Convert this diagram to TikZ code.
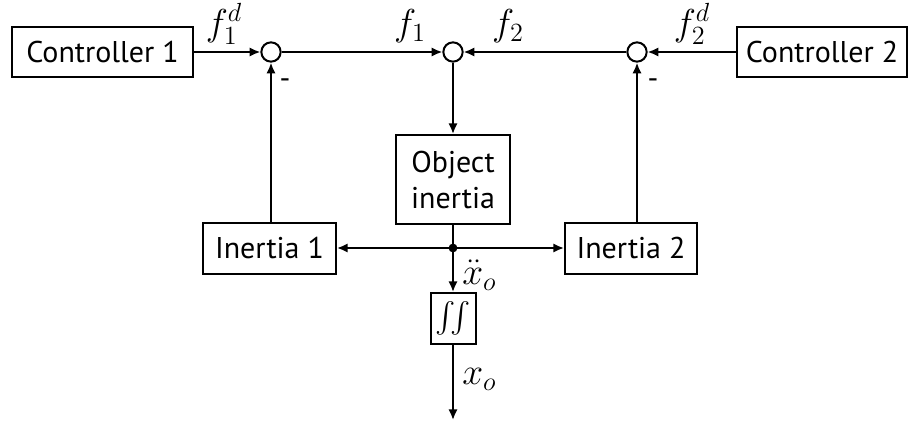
\RequirePackage{fix-cm}
\documentclass[tikz,border=0pt]{standalone}
\usepackage{amsmath}
\usepackage{graphicx}
\usepackage[no-math]{fontspec}
\setmainfont{PT Sans}
\usetikzlibrary{arrows.meta}
\newcommand{\mylbl}[1]{\scalebox{1.25}{$#1$}}
\begin{document}
\begin{tikzpicture}[x=0.75pt,y=-0.75pt,
  font=\fontsize{22.5}{27}\selectfont,
  blk/.style={draw,line width=1.5pt,inner sep=0pt,align=center},
  sumc/.style={circle,draw,line width=1.5pt,minimum size=14.5pt,inner sep=0pt},
  conn/.style={line width=1.5pt,-{Latex[length=8pt,width=7pt]}},
  plain/.style={line width=1.5pt},
  lbl/.style={inner sep=0pt}]
\useasboundingbox (0,0) rectangle (909,421);
\node[blk,minimum width=135.75pt,minimum height=37.5pt] (c1) at (102.5,52) {Controller 1};
\node[blk,minimum width=127.5pt,minimum height=37.5pt] (c2) at (822,52) {Controller 2};
\node[sumc] (s1) at (271,52) {};
\node[sumc] (s0) at (453,52) {};
\node[sumc] (s2) at (637,52) {};
\node[blk,minimum width=85.5pt,minimum height=66.75pt] (obj) at (453,179.5) {Object\\inertia};
\node[blk,minimum width=99.75pt,minimum height=38.25pt] (i1) at (269.5,248) {Inertia 1};
\node[blk,minimum width=99pt,minimum height=38.25pt] (i2) at (631,248) {Inertia 2};
\node[blk,minimum width=33.75pt,minimum height=38.25pt] (int) at (453,318.5) {\scalebox{1.1}{$\iint$}};
\coordinate (j) at (453,248);
\coordinate (out) at (453,420);
\fill (j) circle (3.3pt);
\draw[conn] (c1) -- (s1);
\draw[conn] (s1) -- (s0);
\draw[conn] (s2) -- (s0);
\draw[conn] (c2) -- (s2);
\draw[conn] (s0) -- (obj);
\draw[plain] (obj) -- (j);
\draw[conn] (j) -- (i1);
\draw[conn] (j) -- (i2);
\draw[conn] (s1 |- i1.north) -- (s1);
\draw[conn] (s2 |- i2.north) -- (s2);
\draw[conn] (j) -- (int);
\draw[conn] (int) -- (out);
\node[lbl,anchor=south] (l1) at (224,45) {\mylbl{f_1^d}};
\node[lbl,anchor=south] (l2) at (410,43) {\mylbl{f_1}};
\node[lbl,anchor=south] (l3) at (508,43) {\mylbl{f_2}};
\node[lbl,anchor=south] (l4) at (692,45) {\mylbl{f_2^d}};
\node[lbl] (m1) at (285,84) {-};
\node[lbl] (m2) at (653,84) {-};
\node[lbl,anchor=north west] (l5) at (462,260) {\mylbl{\ddot{x}_o}};
\node[lbl,anchor=north west] (l6) at (462,368) {\mylbl{x_o}};
\end{tikzpicture}
\end{document}
